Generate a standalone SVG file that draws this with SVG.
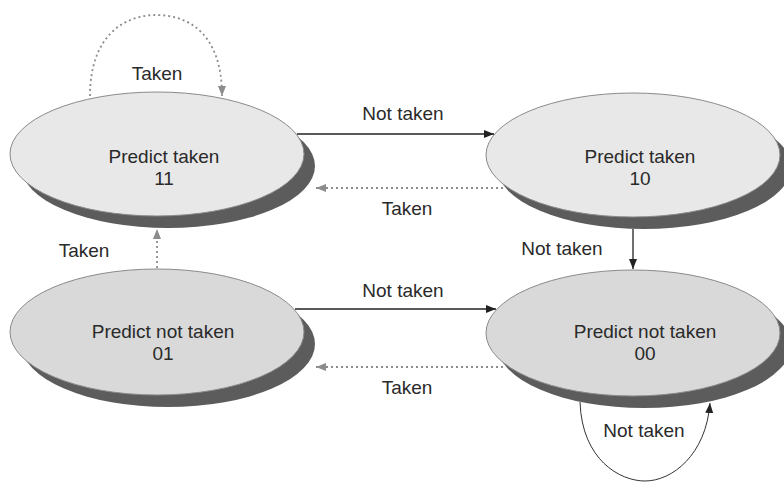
<svg xmlns="http://www.w3.org/2000/svg" width="784" height="482" viewBox="0 0 784 482">
<style>
.shadow{fill:#5c5c5c;stroke:none}
.top{fill:#e8e8e8;stroke:#8a8a8a;stroke-width:1}
.bot{fill:#d9d9d9;stroke:#8a8a8a;stroke-width:1}
text{font-family:"Liberation Sans",Arial,sans-serif;font-size:19px;fill:#2a2a2a;text-anchor:middle}
.solid{fill:none;stroke:#222;stroke-width:1.3}
.thin{fill:none;stroke:#333;stroke-width:1}
.dot{fill:none;stroke:#8c8c8c;stroke-width:1.8;stroke-dasharray:2 3}
</style>
<defs>
<marker id="ah" viewBox="0 0 10 10" refX="10" refY="5" markerWidth="10" markerHeight="10" markerUnits="userSpaceOnUse" orient="auto"><path d="M0,1 L10,5 L0,9 z" fill="#222"/></marker>
<marker id="ahg" viewBox="0 0 10 10" refX="10" refY="5" markerWidth="10" markerHeight="10" markerUnits="userSpaceOnUse" orient="auto"><path d="M0,1 L10,5 L0,9 z" fill="#8c8c8c"/></marker>
</defs>
<rect width="784" height="482" fill="#fff"/>
<g id="node-11">
<ellipse class="shadow" cx="168" cy="166" rx="147" ry="62"/>
<ellipse class="top" cx="157" cy="154" rx="147" ry="62"/>
<text x="164" y="163">Predict taken</text>
<text x="164" y="185">11</text>
</g>
<g id="node-10">
<ellipse class="shadow" cx="644" cy="167" rx="147" ry="62"/>
<ellipse class="top" cx="633" cy="155" rx="147" ry="62"/>
<text x="640" y="163">Predict taken</text>
<text x="640" y="185">10</text>
</g>
<g id="node-01">
<ellipse class="shadow" cx="168" cy="344" rx="147" ry="63"/>
<ellipse class="bot" cx="157" cy="332" rx="147" ry="63"/>
<text x="163" y="338">Predict not taken</text>
<text x="163" y="360">01</text>
</g>
<g id="node-00">
<ellipse class="shadow" cx="644" cy="345" rx="147" ry="63"/>
<ellipse class="bot" cx="633" cy="333" rx="147" ry="63"/>
<text x="645" y="338">Predict not taken</text>
<text x="645" y="360">00</text>
</g>
<g id="connectors">
<path class="dot" d="M90,96 C90,35 125,15 156,15 C190,15 222,35 222,96" marker-end="url(#ahg)"/>
<text x="157" y="80">Taken</text>
<path class="solid" d="M297,134 L494,134" marker-end="url(#ah)"/>
<text x="403" y="120">Not taken</text>
<path class="dot" d="M503,188 L316,188" marker-end="url(#ahg)"/>
<text x="407" y="215">Taken</text>
<path class="solid" d="M633,229 L633,269" marker-end="url(#ah)"/>
<text x="562" y="255">Not taken</text>
<path class="dot" d="M157,268 L157,229" marker-end="url(#ahg)"/>
<text x="84" y="257">Taken</text>
<path class="solid" d="M295,309 L496,309" marker-end="url(#ah)"/>
<text x="403" y="297">Not taken</text>
<path class="dot" d="M503,367 L316,367" marker-end="url(#ahg)"/>
<text x="407" y="394">Taken</text>
<path class="thin" d="M580,402 C582,460 620,481 645,481 C672,481 706,455 710,403" marker-end="url(#ah)"/>
<text x="644" y="437">Not taken</text>
</g>
</svg>
